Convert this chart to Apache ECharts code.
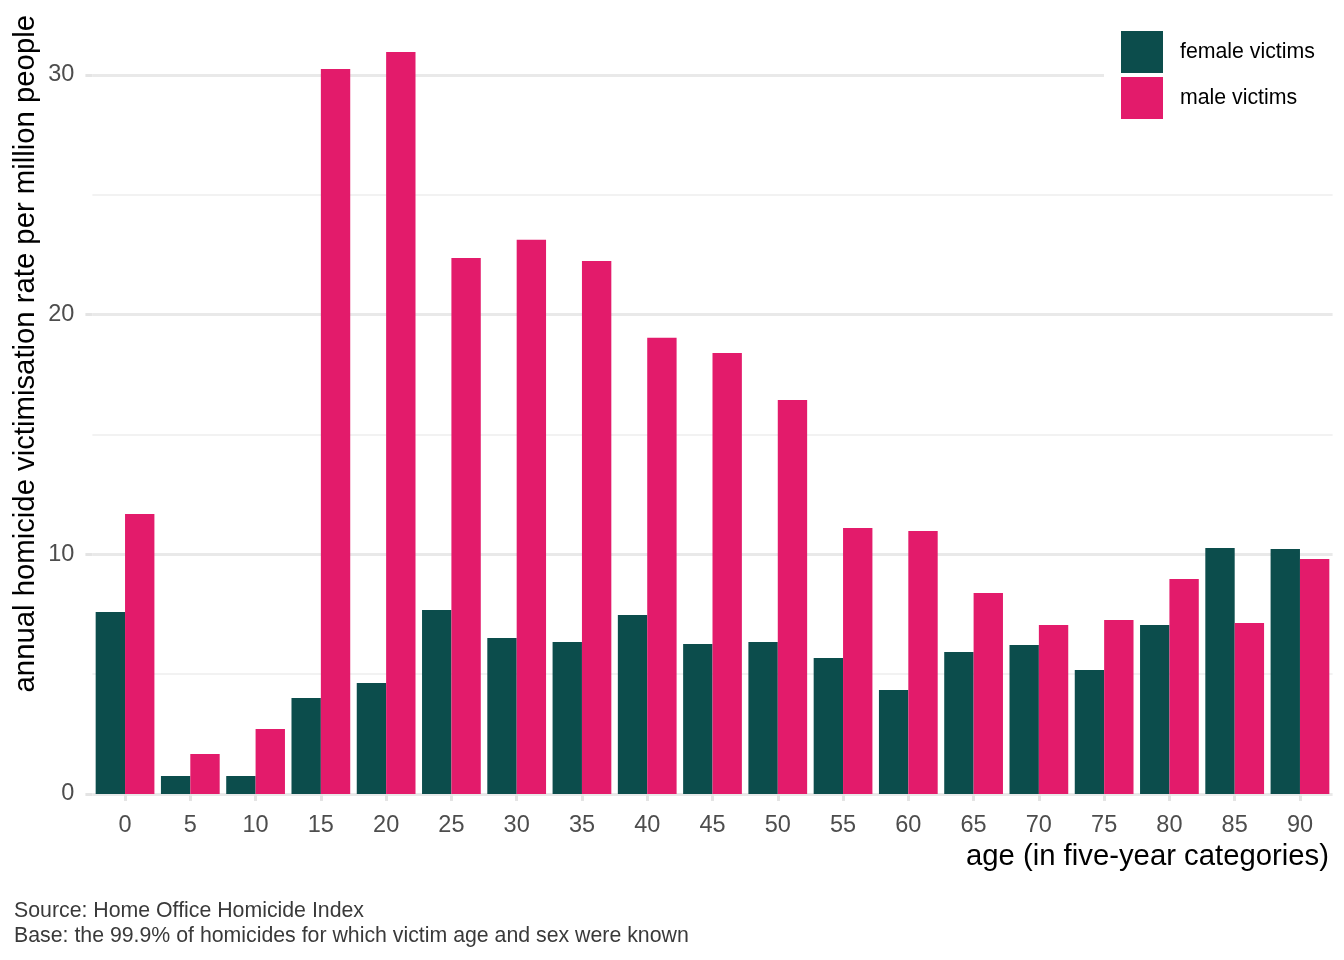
<!DOCTYPE html>
<html>
<head>
<meta charset="utf-8">
<script src="https://cdn.jsdelivr.net/npm/echarts@6/dist/echarts.min.js"></script>
<style>
  html, body { margin: 0; padding: 0; background: #ffffff; }
  #chart { width: 1344px; height: 960px; }
</style>
</head>
<body>
<div id="chart"></div>
<script>
// ---- data ----
var ageCategories = ['0','5','10','15','20','25','30','35','40','45','50','55','60','65','70','75','80','85','90'];
var femaleVictims = [7.59, 0.75, 0.75, 4.00, 4.63, 7.68, 6.51, 6.34, 7.47, 6.26, 6.34, 5.67, 4.34, 5.92, 6.22, 5.17, 7.05, 10.26, 10.22];
var maleVictims   = [11.68, 1.67, 2.71, 30.25, 30.96, 22.36, 23.12, 22.24, 19.03, 18.40, 16.44, 11.10, 10.97, 8.39, 7.05, 7.26, 8.97, 7.13, 9.80];
var yTickValues = [0, 10, 20, 30];
var seriesNames = ['female victims', 'male victims'];
var xTitle = 'age (in five-year categories)';
var yTitle = 'annual homicide victimisation rate per million people';
var captionLines = ['Source: Home Office Homicide Index', 'Base: the 99.9% of homicides for which victim age and sex were known'];

var FONT = '"Liberation Sans", Arial, Helvetica, sans-serif';
var chart = echarts.init(document.getElementById('chart'), null, { renderer: 'canvas' });

var option = {
  animation: false,
  backgroundColor: '#ffffff',
  textStyle: { fontFamily: FONT },
  grid: { left: 92.4, right: 11.4, top: 15, bottom: 166, containLabel: false },
  legend: {
    orient: 'vertical',
    left: 1104,
    top: 21,
    padding: [10, 19, 10, 17],
    backgroundColor: '#ffffff',
    itemWidth: 42,
    itemHeight: 42,
    itemGap: 4,
    icon: 'rect',
    selectedMode: false,
    textStyle: { fontSize: 21.3, color: '#000000', fontFamily: FONT, padding: [14, 0, 0, 12] },
    data: seriesNames
  },
  xAxis: {
    type: 'category',
    data: ageCategories,
    axisLine: { show: false },
    axisTick: { show: true, alignWithLabel: true, length: 7, lineStyle: { color: '#e4e4e4', width: 3 } },
    axisLabel: { fontSize: 23.5, color: '#4d4d4d', margin: 20, fontFamily: FONT },
    splitLine: { show: false }
  },
  yAxis: [
    {
      type: 'value',
      position: 'left',
      min: 0,
      max: 32.5,
      interval: 10,
      axisLine: { show: false },
      axisTick: { show: true, length: 7, customValues: yTickValues, lineStyle: { color: '#e4e4e4', width: 3 } },
      axisLabel: { fontSize: 23.5, color: '#4d4d4d', margin: 18, fontFamily: FONT, customValues: yTickValues },
      splitLine: { show: true, lineStyle: { color: '#e9e9e9', width: 3 } }
    },
    {
      type: 'value',
      position: 'left',
      min: 0,
      max: 32.5,
      interval: 5,
      axisLine: { show: false },
      axisTick: { show: false },
      axisLabel: { show: false },
      splitLine: { show: true, showMaxLine: false, lineStyle: { color: ['rgba(0,0,0,0)', '#eeeeee'], width: 1.6 } }
    }
  ],
  series: [
    {
      name: seriesNames[0],
      type: 'bar',
      yAxisIndex: 0,
      data: femaleVictims,
      itemStyle: { color: '#0c4d4c' },
      barGap: '0%',
      barCategoryGap: '10%',
      z: 3
    },
    {
      name: seriesNames[1],
      type: 'bar',
      yAxisIndex: 0,
      data: maleVictims,
      itemStyle: { color: '#e31b6b' },
      barGap: '0%',
      barCategoryGap: '10%',
      z: 3
    }
  ],
  graphic: [
    {
      type: 'text',
      x: 26.4,
      y: 15,
      rotation: Math.PI / 2,
      style: { text: yTitle, fontSize: 29.3, fill: '#000000', fontFamily: FONT, align: 'right', verticalAlign: 'middle' }
    },
    {
      type: 'text',
      x: 1329,
      y: 857,
      style: { text: xTitle, fontSize: 29.3, fill: '#000000', fontFamily: FONT, align: 'right', verticalAlign: 'middle' }
    },
    {
      type: 'text',
      x: 14,
      y: 911,
      style: { text: captionLines[0], fontSize: 21.3, fill: '#3a3a3a', fontFamily: FONT, align: 'left', verticalAlign: 'middle' }
    },
    {
      type: 'text',
      x: 14,
      y: 936,
      style: { text: captionLines[1], fontSize: 21.3, fill: '#3a3a3a', fontFamily: FONT, align: 'left', verticalAlign: 'middle' }
    }
  ]
};
chart.setOption(option);
</script>
</body>
</html>
